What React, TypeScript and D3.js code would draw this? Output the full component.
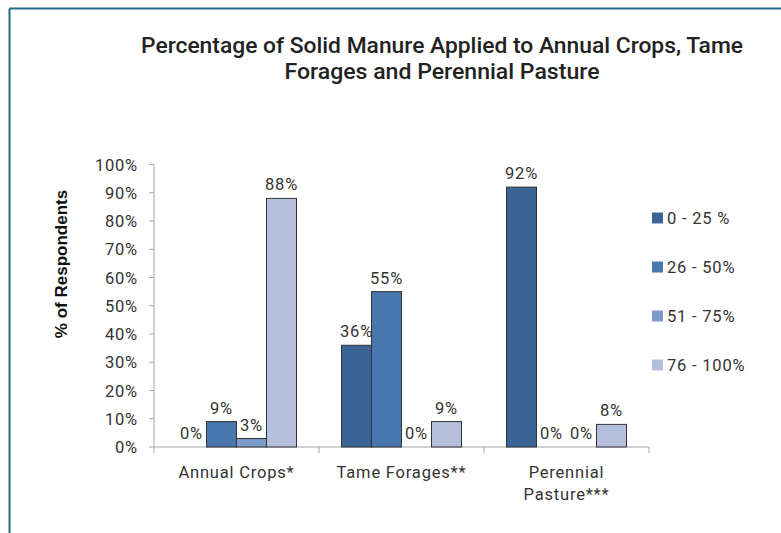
import React from 'react';
import * as d3 from 'd3';

// chart data
const categories = ['Annual Crops*', 'Tame Forages**', 'Perennial Pasture***'];
const seriesNames = ['0 - 25 %', '26 - 50%', '51 - 75%', '76 - 100%'];
const annualCrops = [0, 9, 3, 88];
const tameForages = [36, 55, 0, 9];
const perennialPasture = [92, 0, 0, 8];
const yTicks = [0, 10, 20, 30, 40, 50, 60, 70, 80, 90, 100];

const values = [annualCrops, tameForages, perennialPasture];
const colors = ['#3b6496', '#4877b0', '#7a9bcb', '#b3bfdd'];

const W = 781;
const H = 533;
const plot = { left: 154, right: 649, top: 164.5, bottom: 447 };
const font = 'Roboto, "DejaVu Sans", sans-serif';
const fs = 16.5;
const ls = 0.8;

export default function App() {
  const x0 = d3.scaleBand<string>().domain(categories).range([plot.left, plot.right]);
  const x1 = d3
    .scaleBand<number>()
    .domain(d3.range(seriesNames.length))
    .range([0, x0.bandwidth()])
    .paddingOuter(0.75)
    .paddingInner(0);
  const y = d3.scaleLinear().domain([0, 100]).range([plot.bottom, plot.top]);

  // category boundary ticks on x axis
  const xTickPos = categories.map(c => x0(c)!).concat([plot.right]);

  return (
    <svg width={W} height={H} style={{ position: 'absolute', left: 0, top: 0, background: '#fff' }}>
      {/* frame */}
      <line x1={9.5} y1={8.5} x2={W} y2={8.5} stroke="#1f6a8a" strokeWidth={2} />
      <line x1={9.5} y1={8.5} x2={9.5} y2={H} stroke="#1f6a8a" strokeWidth={2} />

      {/* title */}
      <text x={442} y={52.5} textAnchor="middle" fontFamily={font} fontSize={22} fontWeight={500} fill="#222" textLength={602} lengthAdjust="spacingAndGlyphs">
        Percentage of Solid Manure Applied to Annual Crops, Tame
      </text>
      <text x={442} y={78.5} textAnchor="middle" fontFamily={font} fontSize={22} fontWeight={500} fill="#222" textLength={315} lengthAdjust="spacingAndGlyphs">
        Forages and Perennial Pasture
      </text>

      {/* y axis */}
      <line x1={plot.left} y1={plot.top} x2={plot.left} y2={plot.bottom} stroke="#a6a6a6" />
      {yTicks.map(t => (
        <g key={t}>
          <line x1={plot.left - 5} x2={plot.left} y1={y(t)} y2={y(t)} stroke="#a6a6a6" />
          <text x={138} y={y(t) + 6} textAnchor="end" fontFamily={font} fontSize={fs} letterSpacing={ls} fill="#333">
            {t}%
          </text>
        </g>
      ))}
      <text
        transform={`translate(67, 264) rotate(-90)`}
        textAnchor="middle"
        fontFamily='"Liberation Sans", Arial, sans-serif'
        fontSize={17}
        fontWeight="bold"
        fill="#111"
      >
        % of Respondents
      </text>

      {/* x axis */}
      <line x1={plot.left} y1={plot.bottom} x2={plot.right} y2={plot.bottom} stroke="#a6a6a6" />
      {xTickPos.map((p, i) => (
        <line key={i} x1={p} x2={p} y1={plot.bottom} y2={plot.bottom + 6} stroke="#a6a6a6" />
      ))}
      {categories.map(c => {
        const cx = x0(c)! + x0.bandwidth() / 2;
        const parts = c === 'Perennial Pasture***' ? ['Perennial', 'Pasture***'] : [c];
        return (
          <text key={c} textAnchor="middle" fontFamily={font} fontSize={fs} letterSpacing={ls} fill="#333">
            {parts.map((p, i) => (
              <tspan key={i} x={cx} y={478 + i * 22}>
                {p}
              </tspan>
            ))}
          </text>
        );
      })}

      {/* bars */}
      {categories.map((c, ci) =>
        values[ci].map((v, si) => {
          const bx = x0(c)! + x1(si)!;
          const bw = x1.bandwidth();
          return (
            <g key={c + si}>
              {v > 0 && (
                <rect x={bx} y={y(v)} width={bw} height={y(0) - y(v)} fill={colors[si]} stroke="#333" strokeWidth={1} />
              )}
              <text x={bx + bw / 2} y={y(v) - 8} textAnchor="middle" fontFamily={font} fontSize={fs} letterSpacing={ls} fill="#333">
                {v}%
              </text>
            </g>
          );
        })
      )}

      {/* legend */}
      {seriesNames.map((s, i) => (
        <g key={s} transform={`translate(652, ${218 + i * 49})`}>
          <rect x={0} y={-5.5} width={11} height={11} fill={colors[i]} />
          <text x={15} y={6} fontFamily={font} fontSize={fs} letterSpacing={ls} fill="#333">
            {s}
          </text>
        </g>
      ))}
    </svg>
  );
}
